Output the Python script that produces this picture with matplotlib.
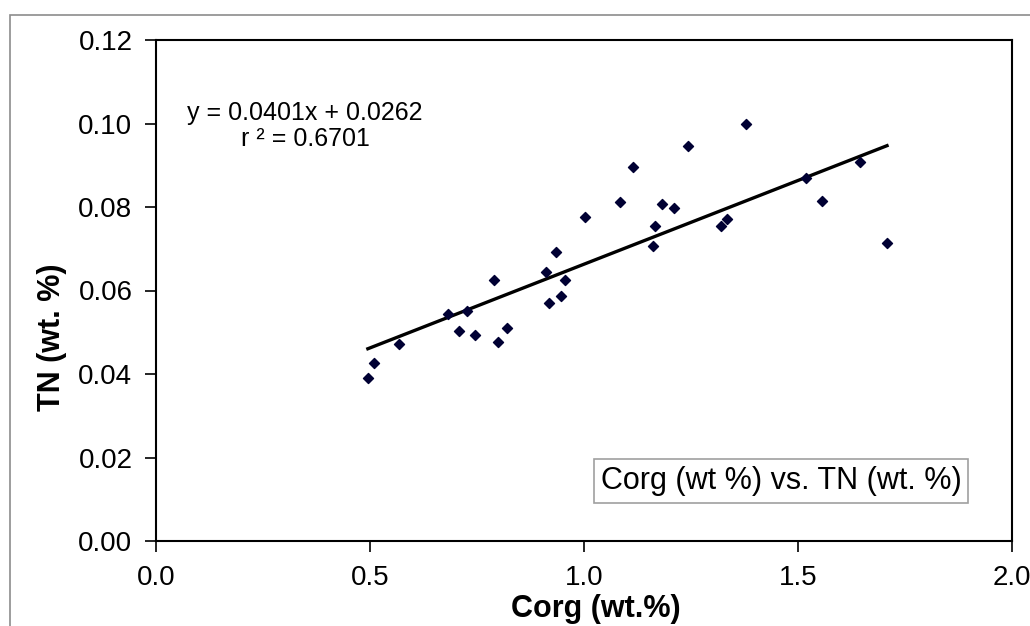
import matplotlib.pyplot as plt
from matplotlib.patches import Rectangle
import numpy as np

plt.rcParams['font.family'] = ['Liberation Sans', 'DejaVu Sans']

# Corg (wt.%) vs TN (wt. %)
corg = [0.495, 0.509, 0.568, 0.683, 0.727, 0.709, 0.745, 0.789, 0.800, 0.821,
        0.912, 0.934, 0.919, 0.947, 0.955, 1.002, 1.085, 1.114, 1.161, 1.167,
        1.183, 1.211, 1.243, 1.379, 1.320, 1.334, 1.518, 1.555, 1.645, 1.708]
tn = [0.0390, 0.0426, 0.0471, 0.0543, 0.0551, 0.0503, 0.0494, 0.0626, 0.0477, 0.0509,
      0.0645, 0.0693, 0.0569, 0.0586, 0.0624, 0.0775, 0.0811, 0.0896, 0.0707, 0.0755,
      0.0806, 0.0798, 0.0947, 0.1000, 0.0755, 0.0772, 0.0870, 0.0814, 0.0908, 0.0714]

slope = 0.0401
intercept = 0.0262
r2 = 0.6701

xticks = [0.0, 0.5, 1.0, 1.5, 2.0]
yticks = [0.00, 0.02, 0.04, 0.06, 0.08, 0.10, 0.12]

fig = plt.figure(figsize=(10.30, 6.26), dpi=100)
ax = fig.add_axes([156/1030, 1 - 541/626, (1012 - 156)/1030, (541 - 40)/626])

# outer chart border (cut off at right/bottom)
fig.patches.append(Rectangle((9.5/1030, -0.1), 1.2, 1 - 15/626 + 0.1,
                             transform=fig.transFigure, fill=False,
                             edgecolor='#8c8c8c', linewidth=1.2))

ax.scatter(corg, tn, marker='D', s=26, color='#000033', zorder=3)

xl = np.array([min(corg), max(corg)])
ax.plot(xl, slope * xl + intercept, color='black', linewidth=2.4, zorder=2)

ax.set_xlim(0, 2.0)
ax.set_ylim(0, 0.12)
ax.set_xticks(xticks)
ax.set_yticks(yticks)
ax.set_xticklabels(['%.1f' % v for v in xticks])
ax.set_yticklabels(['%.2f' % v for v in yticks])
ax.tick_params(direction='out', length=8, width=1.2, labelsize=20)
ax.tick_params(axis='x', pad=9)
ax.tick_params(axis='y', pad=9)
for s in ax.spines.values():
    s.set_linewidth(1.5)

ax.set_xlabel('Corg (wt.%)', fontsize=22, fontweight='bold')
ax.xaxis.set_label_coords((596 - 156)/856, -(594 - 541)/501)
ax.set_ylabel('TN (wt. %)', fontsize=22, fontweight='bold')
ax.yaxis.set_label_coords(-(156 - 67)/856, (541 - 337)/501)

ax.text(0.348, 0.0993, 'y = %.4fx + %.4f\nr ² = %.4f' % (slope, intercept, r2),
        fontsize=18, ha='center', va='center', multialignment='center',
        linespacing=1.1)

ax.text(1.461, 0.0144, 'Corg (wt %) vs. TN (wt. %)', fontsize=22,
        ha='center', va='center',
        bbox=dict(boxstyle='square,pad=0.22', facecolor='white',
                  edgecolor='#a0a0a0', linewidth=1.2))

fig.savefig('out.png', dpi=100)
